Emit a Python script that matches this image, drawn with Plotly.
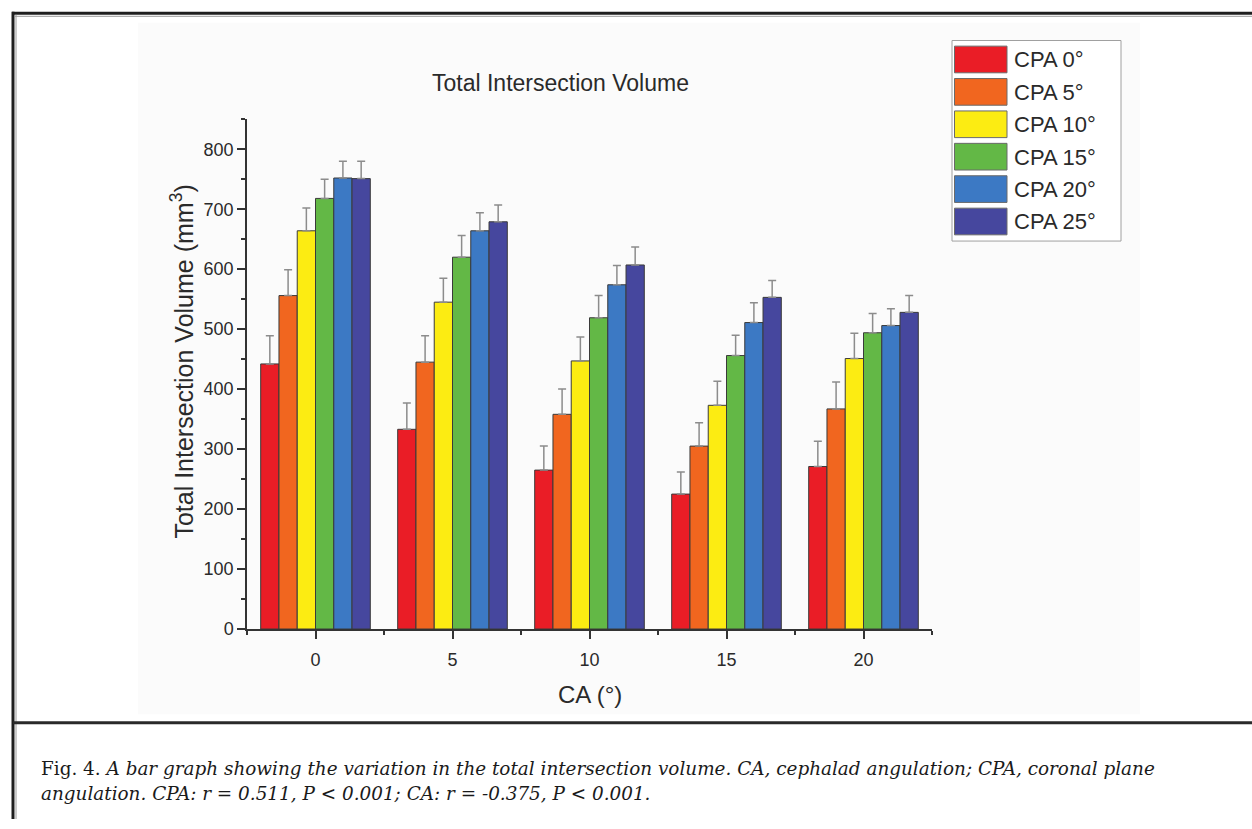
import plotly.graph_objects as go

# ---- data ----
ca_values = [0, 5, 10, 15, 20]
series_names = ["CPA 0°", "CPA 5°", "CPA 10°", "CPA 15°", "CPA 20°", "CPA 25°"]
cpa0 = [442, 333, 265, 225, 271]
cpa5 = [556, 445, 358, 305, 367]
cpa10 = [664, 545, 447, 373, 451]
cpa15 = [718, 620, 519, 456, 494]
cpa20 = [752, 664, 574, 511, 506]
cpa25 = [751, 679, 607, 553, 528]
err0 = [47, 44, 40, 37, 42]
err5 = [43, 44, 42, 39, 45]
err10 = [38, 40, 40, 40, 42]
err15 = [32, 36, 37, 34, 32]
err20 = [28, 30, 32, 33, 28]
err25 = [29, 28, 30, 28, 28]
y_ticks = [0, 100, 200, 300, 400, 500, 600, 700, 800]

values = [cpa0, cpa5, cpa10, cpa15, cpa20, cpa25]
errors = [err0, err5, err10, err15, err20, err25]
colors = ["#EA1D26", "#F1661F", "#FCEC12", "#63B846", "#3C79C4", "#46479E"]

W, H = 1252, 829
def px(x):
    return x / W
def py(y):
    return 1 - y / H

TXT = "#2a2a2a"
FONT = "Liberation Sans, Arial, sans-serif"

fig = go.Figure()
for name, v, e, c in zip(series_names, values, errors, colors):
    fig.add_trace(go.Bar(
        x=ca_values, y=v, name=name,
        marker=dict(color=c, line=dict(color="#3a3a3a", width=1)),
        error_y=dict(type="data", array=e, arrayminus=[0] * len(e), symmetric=False,
                     color="#8c8c8c", thickness=1.5, width=4),
        showlegend=False,
    ))

shapes = []
annotations = []

# light chart background
shapes.append(dict(type="rect", xref="paper", yref="paper", layer="below",
                   x0=px(138), x1=px(1140), y0=py(723), y1=py(23),
                   fillcolor="#FBFBFB", line=dict(width=0)))

# outer frame lines
shapes.append(dict(type="line", xref="paper", yref="paper", x0=px(12), x1=px(1252),
                   y0=py(13.5), y1=py(13.5), line=dict(color="#1e1e1e", width=3)))
shapes.append(dict(type="line", xref="paper", yref="paper", x0=px(15), x1=px(1252),
                   y0=py(16.5), y1=py(16.5), line=dict(color="#9a9a9a", width=1)))
shapes.append(dict(type="line", xref="paper", yref="paper", x0=px(13), x1=px(13),
                   y0=py(12), y1=py(829), line=dict(color="#1e1e1e", width=3)))
shapes.append(dict(type="line", xref="paper", yref="paper", x0=px(16), x1=px(16),
                   y0=py(15), y1=py(829), line=dict(color="#9a9a9a", width=1)))
# divider above caption
shapes.append(dict(type="line", xref="paper", yref="paper", x0=px(13), x1=px(1252),
                   y0=py(731.5), y1=py(731.5), line=dict(color="#2a2a2a", width=3)))

# custom legend
shapes.append(dict(type="rect", xref="paper", yref="paper",
                   x0=px(952), x1=px(1121), y0=py(244), y1=py(41),
                   fillcolor="white", line=dict(color="#a0a0a0", width=1)))
for i, (name, c) in enumerate(zip(series_names, colors)):
    top = 46.7 + i * 32.8
    shapes.append(dict(type="rect", xref="paper", yref="paper",
                       x0=px(954.5), x1=px(1007), y0=py(top + 27), y1=py(top),
                       fillcolor=c, line=dict(color="#6a6a6a", width=1)))
    annotations.append(dict(x=px(1012), y=py(top + 14), xref="paper", yref="paper",
                            text=name, showarrow=False, xanchor="left", yanchor="middle",
                            font=dict(family=FONT, size=22, color=TXT)))

# chart title
annotations.append(dict(x=px(560), y=py(84), xref="paper", yref="paper",
                        text="Total Intersection Volume", showarrow=False,
                        xanchor="center", yanchor="middle",
                        font=dict(family=FONT, size=23, color=TXT)))
# axis titles
annotations.append(dict(x=px(182), y=py(366), xref="paper", yref="paper",
                        text="Total Intersection Volume (mm<sup>3</sup>)", showarrow=False,
                        textangle=-90, xanchor="center", yanchor="middle",
                        font=dict(family=FONT, size=25, color=TXT)))
annotations.append(dict(x=px(589.5), y=py(703), xref="paper", yref="paper",
                        text="CA (°)", showarrow=False, xanchor="center", yanchor="middle",
                        font=dict(family=FONT, size=24, color=TXT)))

# caption
CAP = "DejaVu Serif, serif"
annotations.append(dict(x=px(39), y=py(778), xref="paper", yref="paper",
                        text="Fig. 4. <i>A bar graph showing the variation in the total intersection volume. CA, cephalad angulation; CPA, coronal plane</i>",
                        showarrow=False, xanchor="left", yanchor="middle",
                        font=dict(family=CAP, size=18.4, color="#1a1a1a")))
annotations.append(dict(x=px(39), y=py(803), xref="paper", yref="paper",
                        text="<i>angulation. CPA: r = 0.511, P &lt; 0.001; CA: r = -0.375, P &lt; 0.001.</i>",
                        showarrow=False, xanchor="left", yanchor="middle",
                        font=dict(family=CAP, size=18.4, color="#1a1a1a")))

fig.update_layout(
    width=W, height=H,
    margin=dict(l=0, r=0, t=0, b=0),
    paper_bgcolor="white", plot_bgcolor="rgba(0,0,0,0)",
    barmode="group", bargap=0.2, bargroupgap=0,
    shapes=shapes, annotations=annotations,
    xaxis=dict(domain=[px(247), px(932)], range=[-2.5, 22.5],
               tickvals=ca_values, ticktext=[str(v) for v in ca_values],
               ticks="outside", ticklen=8, tickwidth=1.5, tickcolor="#333",
               ticklabelstandoff=6,
               showline=True, linecolor="#333", linewidth=1.5, showgrid=False, zeroline=False,
               tickfont=dict(family=FONT, size=18, color=TXT),
               minor=dict(tick0=0, dtick=2.5, ticks="outside", ticklen=4, tickcolor="#333", tickwidth=1.5)),
    yaxis=dict(domain=[py(636.7), py(120.7)], range=[0, 850],
               tickvals=y_ticks, ticktext=[str(v) for v in y_ticks],
               ticks="outside", ticklen=8, tickwidth=1.5, tickcolor="#333",
               showline=True, linecolor="#333", linewidth=1.5, showgrid=False, zeroline=False,
               tickfont=dict(family=FONT, size=18, color=TXT),
               minor=dict(tick0=0, dtick=50, ticks="outside", ticklen=4, tickcolor="#333", tickwidth=1.5)),
)

fig.write_html("out.html", config={"displayModeBar": False},
               post_script="document.body.style.margin='0';")
